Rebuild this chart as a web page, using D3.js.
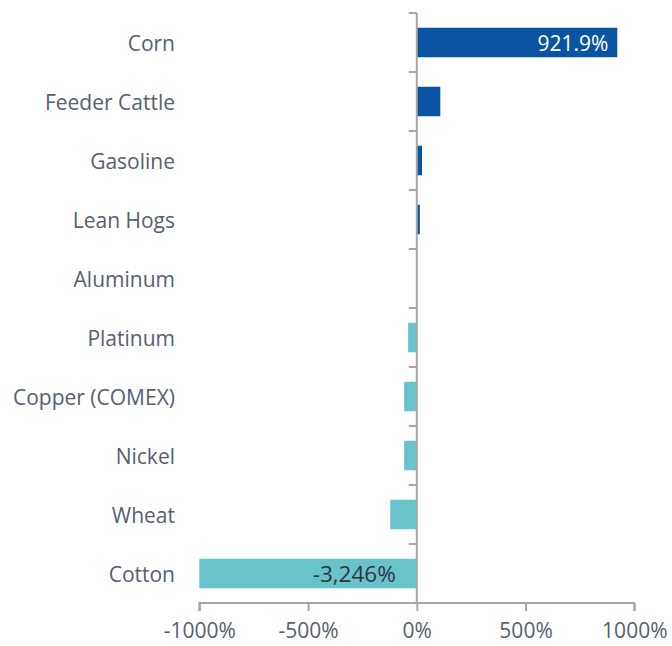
<!DOCTYPE html>
<html>
<head>
<meta charset="utf-8">
<script src="https://cdn.jsdelivr.net/npm/d3@7"></script>
<style>
    body { margin: 0; background: #fff; }
    * { font-family: 'Open Sans', 'Noto Sans', sans-serif; }
    .cat { font-size: 21px; fill: #56606e; }
    .tick-label { font-size: 21px; fill: #56606e; }
</style>
</head>
<body>
<svg id="chart" width="672" height="646"></svg>
<script>
    var categories = ["Corn", "Feeder Cattle", "Gasoline", "Lean Hogs", "Aluminum",
        "Platinum", "Copper (COMEX)", "Nickel", "Wheat", "Cotton"];
    var values = [921.9, 108, 24, 14, 1, -40, -58, -58, -122, -3246];
    var tickValues = [-1000, -500, 0, 500, 1000];
    var barLabels = {"Corn": "921.9%", "Cotton": "-3,246%"};

    var svg = d3.select("#chart");
    var axisColor = "#a6a6a6";

    // x: percent change, clipped to +-1000
    var x = d3.scaleLinear().domain([-1000, 1000]).range([199.3, 634.3]);
    var y = d3.scaleBand().domain(categories).range([13, 603]).paddingInner(0.5).paddingOuter(0.25);
    var band = d3.scaleBand().domain(categories).range([13, 603]);

    function clip(v) { return Math.max(-1000, Math.min(1000, v)); }

    // bars
    svg.selectAll("rect.bar")
        .data(categories)
        .enter()
        .append("rect")
        .attr("class", "bar")
        .attr("x", function(d, i) { return x(Math.min(0, clip(values[i]))); })
        .attr("width", function(d, i) { return Math.abs(x(clip(values[i])) - x(0)); })
        .attr("y", function(d) { return y(d); })
        .attr("height", y.bandwidth())
        .attr("fill", function(d, i) { return values[i] >= 0 ? "#0a54a2" : "#69c3cb"; });

    // value labels inside the bars
    svg.selectAll("text.val")
        .data(categories.filter(function(d) { return barLabels[d]; }))
        .enter()
        .append("text")
        .attr("class", "val")
        .attr("x", function(d) {
            var v = clip(values[categories.indexOf(d)]);
            return v > 0 ? x(v) - 9 : x(0) - 21;
        })
        .attr("y", function(d) { return y(d) + y.bandwidth() / 2 + 1; })
        .attr("dy", "0.35em")
        .attr("text-anchor", "end")
        .attr("font-size", function(d) { return values[categories.indexOf(d)] > 0 ? "21px" : "22.5px"; })
        .attr("fill", function(d) { return values[categories.indexOf(d)] > 0 ? "#ffffff" : "#2e363d"; })
        .text(function(d) { return barLabels[d]; });

    // category axis at zero
    var yAxis = svg.append("g").attr("transform", "translate(" + x(0) + ",0)");
    yAxis.append("line")
        .attr("x1", 0).attr("x2", 0)
        .attr("y1", band.range()[0]).attr("y2", band.range()[1])
        .attr("stroke", axisColor).attr("stroke-width", 2);
    yAxis.selectAll("line.ctick")
        .data(categories)
        .enter()
        .append("line")
        .attr("class", "ctick")
        .attr("x1", -8).attr("x2", 0)
        .attr("y1", function(d) { return band(d); })
        .attr("y2", function(d) { return band(d); })
        .attr("stroke", axisColor).attr("stroke-width", 2);

    // category labels
    svg.selectAll("text.cat")
        .data(categories)
        .enter()
        .append("text")
        .attr("class", "cat")
        .attr("x", 175)
        .attr("y", function(d) { return band(d) + band.bandwidth() / 2 + 1; })
        .attr("dy", "0.35em")
        .attr("text-anchor", "end")
        .text(function(d) { return d; });

    // value axis
    var xAxis = d3.axisBottom(x)
        .tickValues(tickValues)
        .tickSize(8)
        .tickFormat(function(d) { return d + "%"; });
    var gx = svg.append("g")
        .attr("transform", "translate(0," + band.range()[1] + ")")
        .call(xAxis);
    gx.select(".domain").attr("stroke", axisColor).attr("stroke-width", 2)
        .attr("d", "M" + x(-1000) + ",8V0H" + x(1000) + "V8");
    gx.selectAll(".tick line").attr("stroke", axisColor).attr("stroke-width", 2);
    gx.selectAll(".tick text")
        .attr("class", "tick-label")
        .attr("y", 20)
        .attr("font-family", null)
        .attr("font-size", null);
</script>
</body>
</html>
